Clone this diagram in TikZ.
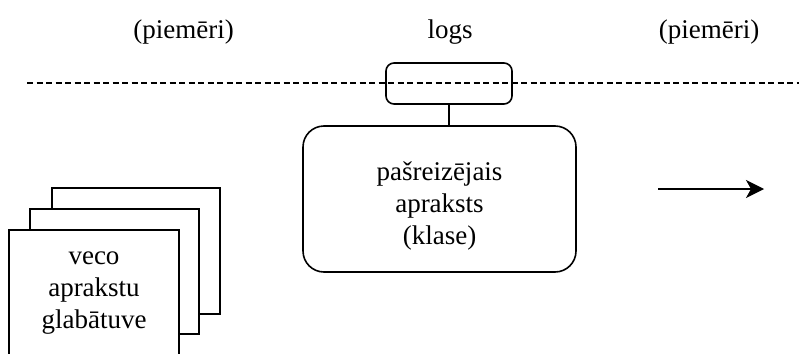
\documentclass[tikz,border=0pt]{standalone}
\usepackage{fontspec}
\setmainfont{Liberation Serif}
\usetikzlibrary{arrows.meta}
\begin{document}
\begin{tikzpicture}[x=1pt,y=-1pt,
  lbl/.style={font=\fontsize{27}{31}\selectfont, anchor=base, inner sep=0},
  docbox/.style={draw, fill=white, line width=1.6pt, inner sep=0},
  txt/.style={font=\fontsize{27}{32}\selectfont, align=center, inner sep=0},
  rbox/.style={draw, line width=1.6pt, inner sep=0}]
\useasboundingbox (0,0) rectangle (799,353);
\clip (0,0) rectangle (799,353);
% labels
\node[lbl] (l1) at (183.5,38) {(piemēri)};
\node[lbl] (l2) at (450,38) {logs};
\node[lbl] (l3) at (709,38) {(piemēri)};
% dashed line
\coordinate (d1) at (27,83);
\coordinate (d2) at (799,83);
\draw[line width=1.3pt, dash pattern=on 6pt off 3.5pt] (d1) -- (d2);
% window box
\node[rbox, rounded corners=8pt, minimum width=126pt, minimum height=41pt] (win) at (449,83.5) {};
% current description box
\node[rbox, rounded corners=21pt, minimum width=273pt, minimum height=146pt] (cur) at (439.5,199) {};
\node[txt] (curt) at (439.5,206) {pašreizējais\\apraksts\\(klase)};
\draw[line width=1.3pt] (win.south) -- (win.south |- cur.north);
% document stack
\node[docbox, minimum width=168pt, minimum height=126pt] (db3) at (136,251) {};
\node[docbox, minimum width=169pt, minimum height=125pt] (db2) at (114.5,271.5) {};
\node[docbox, minimum width=170pt, minimum height=125pt] (db1) at (94,292.5) {};
\node[txt] (dbt) at (94,293) {veco\\aprakstu\\glabātuve};
% arrow
\coordinate (a1) at (658,189);
\coordinate (a2) at (764,189);
\draw[line width=2pt, -{Stealth[length=18pt, width=18pt, inset=5pt]}] (a1) -- (a2);
\end{tikzpicture}
\end{document}
